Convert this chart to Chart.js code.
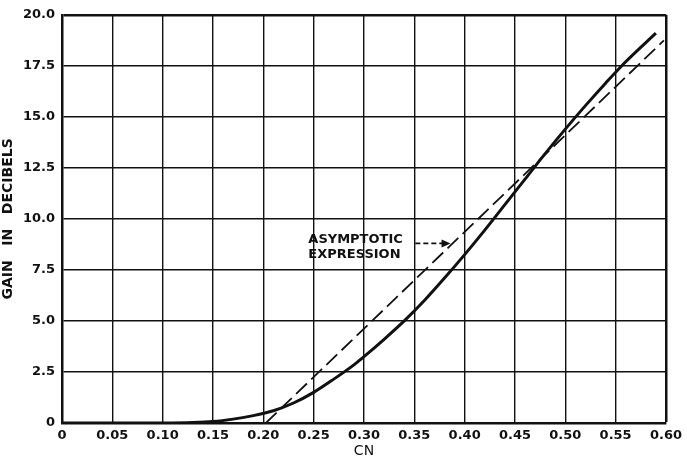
<!DOCTYPE html>
<html>
<head>
<meta charset="utf-8">
<script src="https://cdn.jsdelivr.net/npm/chart.js@4"></script>
<style>
  html, body { margin: 0; padding: 0; background: #fff; }
  #wrap { width: 687px; height: 460px; }
</style>
</head>
<body>
<div id="wrap"><canvas id="gainChart"></canvas></div>
<script>
// Measured curve (solid)
const cnMeasured = [0, 0.05, 0.10, 0.13, 0.15, 0.17, 0.19, 0.21, 0.23, 0.25, 0.27, 0.29, 0.30, 0.32, 0.34, 0.36, 0.38, 0.40, 0.42, 0.44, 0.46, 0.48, 0.50, 0.52, 0.54, 0.56, 0.59];
const gainMeasured = [0, 0, 0, 0.02, 0.07, 0.19, 0.36, 0.6, 0.98, 1.5, 2.15, 2.85, 3.25, 4.1, 5.0, 6.0, 7.1, 8.25, 9.45, 10.7, 11.95, 13.2, 14.4, 15.55, 16.65, 17.7, 19.1];

// Asymptotic expression (dashed straight line)
const cnAsymptotic = [0.2025, 0.598];
const gainAsymptotic = [0, 18.75];

const xTicks = [0, 0.05, 0.10, 0.15, 0.20, 0.25, 0.30, 0.35, 0.40, 0.45, 0.50, 0.55, 0.60];
const yTicks = [0, 2.5, 5.0, 7.5, 10.0, 12.5, 15.0, 17.5, 20.0];

// Annotation anchor (data units)
const noteText = ['ASYMPTOTIC', 'EXPRESSION'];
const noteAt = { x: 0.2447, y: 9.0 };
const arrowFrom = { x: 0.351, y: 8.8 };
const arrowTo = { x: 0.386, y: 8.8 };

const ink = '#111';
const fontFamily = "'DejaVu Sans', sans-serif";

const toPoints = (xs, ys) => xs.map((x, i) => ({ x: x, y: ys[i] }));

// Text + dashed arrow next to the asymptote
const notePlugin = {
    id: 'note',
    afterDatasetsDraw(chart) {
        const { ctx, scales: { x, y } } = chart;
        ctx.save();
        ctx.fillStyle = ink;
        ctx.font = "bold 13px " + fontFamily;
        ctx.textBaseline = 'middle';
        ctx.textAlign = 'left';
        const lx = x.getPixelForValue(noteAt.x);
        const ly = y.getPixelForValue(noteAt.y);
        ctx.fillText(noteText[0], lx, ly);
        ctx.fillText(noteText[1], lx, ly + 15);

        const ax = x.getPixelForValue(arrowFrom.x);
        const ay = y.getPixelForValue(arrowFrom.y);
        const bx = x.getPixelForValue(arrowTo.x);
        const by = y.getPixelForValue(arrowTo.y);
        ctx.strokeStyle = ink;
        ctx.lineWidth = 1.6;
        ctx.setLineDash([5, 3]);
        ctx.beginPath();
        ctx.moveTo(ax, ay);
        ctx.lineTo(bx - 7, by);
        ctx.stroke();
        ctx.setLineDash([]);
        ctx.beginPath();
        ctx.moveTo(bx, by);
        ctx.lineTo(bx - 9, by - 4);
        ctx.lineTo(bx - 9, by + 4);
        ctx.closePath();
        ctx.fill();
        ctx.restore();
    }
};

new Chart(document.getElementById('gainChart'), {
    type: 'scatter',
    data: {
        datasets: [
            {
                label: 'Measured',
                data: toPoints(cnMeasured, gainMeasured),
                showLine: true,
                borderColor: ink,
                borderWidth: 3,
                pointRadius: 0,
                cubicInterpolationMode: 'monotone'
            },
            {
                label: 'Asymptotic expression',
                data: toPoints(cnAsymptotic, gainAsymptotic),
                showLine: true,
                borderColor: ink,
                borderWidth: 1.8,
                borderDash: [15, 6],
                pointRadius: 0
            }
        ]
    },
    options: {
        responsive: true,
        maintainAspectRatio: false,
        animation: false,
        layout: { padding: { top: 14, right: 17, left: 0, bottom: 0 } },
        plugins: {
            legend: { display: false },
            tooltip: { enabled: false }
        },
        scales: {
            x: {
                type: 'linear',
                min: 0,
                max: 0.6,
                afterBuildTicks: axis => { axis.ticks = xTicks.map(v => ({ value: v })); },
                afterFit: axis => { axis.height = 37; },
                grid: {
                    color: ink,
                    lineWidth: c => (c.tick && c.tick.value >= 0.6) ? 2.5 : 1.4,
                    drawTicks: false
                },
                border: { display: true, color: ink, width: 2.5 },
                ticks: {
                    color: ink,
                    padding: 5,
                    maxRotation: 0,
                    font: { family: fontFamily, size: 13, weight: 'bold' },
                    callback: v => v === 0 ? '0' : v.toFixed(2)
                },
                title: {
                    display: true,
                    text: 'CN',
                    color: ink,
                    padding: 0,
                    font: { family: fontFamily, size: 14 }
                }
            },
            y: {
                type: 'linear',
                min: 0,
                max: 20,
                afterBuildTicks: axis => { axis.ticks = yTicks.map(v => ({ value: v })); },
                afterFit: axis => { axis.width = 62; },
                grid: {
                    color: ink,
                    lineWidth: c => (c.tick && c.tick.value >= 20) ? 2.5 : 1.4,
                    drawTicks: false
                },
                border: { display: true, color: ink, width: 2.5 },
                ticks: {
                    color: ink,
                    padding: 7,
                    font: { family: fontFamily, size: 13, weight: 'bold' },
                    callback: v => v === 0 ? '0' : v.toFixed(1)
                },
                title: {
                    display: true,
                    text: 'GAIN   IN   DECIBELS',
                    color: ink,
                    padding: { top: 0, bottom: 4 },
                    font: { family: fontFamily, size: 14, weight: 'bold' }
                }
            }
        }
    },
    plugins: [notePlugin]
});
</script>
</body>
</html>
